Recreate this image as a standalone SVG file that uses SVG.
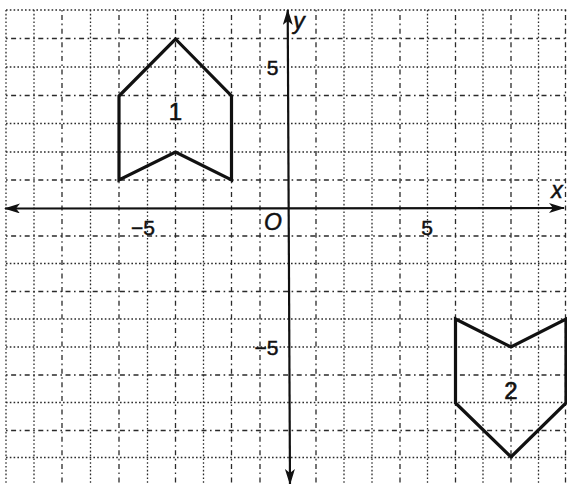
<svg xmlns="http://www.w3.org/2000/svg" width="567" height="484" viewBox="0 0 567 484">
<style>
.gd{stroke:#2a2a2a;stroke-width:1.3;stroke-dasharray:1.6 2.2;fill:none}
.gs{stroke:#2a2a2a;stroke-width:1.3;stroke-dasharray:1.6 3.5 5 3.5;fill:none}
.ax{stroke:#111;stroke-width:2.2;fill:none}
.shp{stroke:#111;stroke-width:3.2;fill:none;stroke-linejoin:miter}
.t{font-family:"Liberation Sans","DejaVu Sans",sans-serif;font-size:21px;fill:#111;stroke:#111;stroke-width:0.5;text-anchor:middle}
.it{font-family:"Liberation Sans","DejaVu Sans",sans-serif;font-style:italic;font-size:23px;fill:#111;stroke:#111;stroke-width:0.5;text-anchor:middle}
.lb{font-family:"Liberation Sans","DejaVu Sans",sans-serif;font-size:24px;fill:#111;stroke:#111;stroke-width:0.6;text-anchor:middle}
</style>
<defs>
<marker id="ah" viewBox="0 0 16 10" refX="15" refY="5" markerWidth="16" markerHeight="10" markerUnits="userSpaceOnUse" orient="auto-start-reverse">
<path d="M0,0 L16,5 L0,10 L4,5 Z" fill="#111"/>
</marker>
</defs>
<rect width="567" height="484" fill="#fff"/>
<g id="grid">
<line class="gd" x1="6" y1="10" x2="6" y2="484"/>
<line class="gd" x1="34" y1="10" x2="34" y2="484"/>
<line class="gs" x1="62" y1="10" x2="62" y2="484"/>
<line class="gd" x1="90.5" y1="10" x2="90.5" y2="484"/>
<line class="gs" x1="119" y1="10" x2="119" y2="484"/>
<line class="gd" x1="147.5" y1="10" x2="147.5" y2="484"/>
<line class="gs" x1="175.5" y1="10" x2="175.5" y2="484"/>
<line class="gd" x1="203.5" y1="10" x2="203.5" y2="484"/>
<line class="gs" x1="231.5" y1="10" x2="231.5" y2="484"/>
<line class="gs" x1="260" y1="10" x2="260" y2="484"/>
<line class="gs" x1="316" y1="10" x2="316" y2="484"/>
<line class="gd" x1="344" y1="10" x2="344" y2="484"/>
<line class="gd" x1="372" y1="10" x2="372" y2="484"/>
<line class="gs" x1="400" y1="10" x2="400" y2="484"/>
<line class="gd" x1="427.5" y1="10" x2="427.5" y2="484"/>
<line class="gs" x1="455.5" y1="10" x2="455.5" y2="484"/>
<line class="gd" x1="483" y1="10" x2="483" y2="484"/>
<line class="gs" x1="511" y1="10" x2="511" y2="484"/>
<line class="gd" x1="538.5" y1="10" x2="538.5" y2="484"/>
<line class="gs" x1="565.5" y1="10" x2="565.5" y2="484"/>
<line class="gd" x1="6" y1="10" x2="567" y2="10"/>
<line class="gs" x1="6" y1="38.5" x2="567" y2="38.5"/>
<line class="gd" x1="6" y1="67" x2="567" y2="67"/>
<line class="gs" x1="6" y1="95.5" x2="567" y2="95.5"/>
<line class="gd" x1="6" y1="123.5" x2="567" y2="123.5"/>
<line class="gd" x1="6" y1="152" x2="567" y2="152"/>
<line class="gs" x1="6" y1="180" x2="567" y2="180"/>
<line class="gs" x1="6" y1="236" x2="567" y2="236"/>
<line class="gd" x1="6" y1="263.5" x2="567" y2="263.5"/>
<line class="gs" x1="6" y1="291.5" x2="567" y2="291.5"/>
<line class="gd" x1="6" y1="319" x2="567" y2="319"/>
<line class="gd" x1="6" y1="347" x2="567" y2="347"/>
<line class="gs" x1="6" y1="375" x2="567" y2="375"/>
<line class="gd" x1="6" y1="402.5" x2="567" y2="402.5"/>
<line class="gs" x1="6" y1="430.5" x2="567" y2="430.5"/>
<line class="gd" x1="6" y1="457.5" x2="567" y2="457.5"/>
</g>
<g id="axes">
<line class="ax" x1="5" y1="208.5" x2="564" y2="208" marker-start="url(#ah)" marker-end="url(#ah)"/>
<line class="ax" x1="287.7" y1="10" x2="290" y2="484" marker-start="url(#ah)" marker-end="url(#ah)"/>
</g>
<g id="labels">
<text class="it" x="299" y="29">y</text>
<text class="it" x="557" y="198">x</text>
<text class="it" x="273" y="230">O</text>
<text class="t" x="272.5" y="75">5</text>
<text class="t" x="143" y="235">−5</text>
<text class="t" x="427" y="235">5</text>
<text class="t" x="266.5" y="355">−5</text>
</g>
<g id="shape1">
<polygon class="shp" points="175.5,39 231.5,96 231.5,180 175.5,152 119,180 119,96"/>
<text class="lb" x="175.5" y="120">1</text>
</g>
<g id="shape2">
<polygon class="shp" points="455.5,319 511,347 566,319 566,403 511,457 455.5,403"/>
<text class="lb" x="511" y="399">2</text>
</g>
</svg>
